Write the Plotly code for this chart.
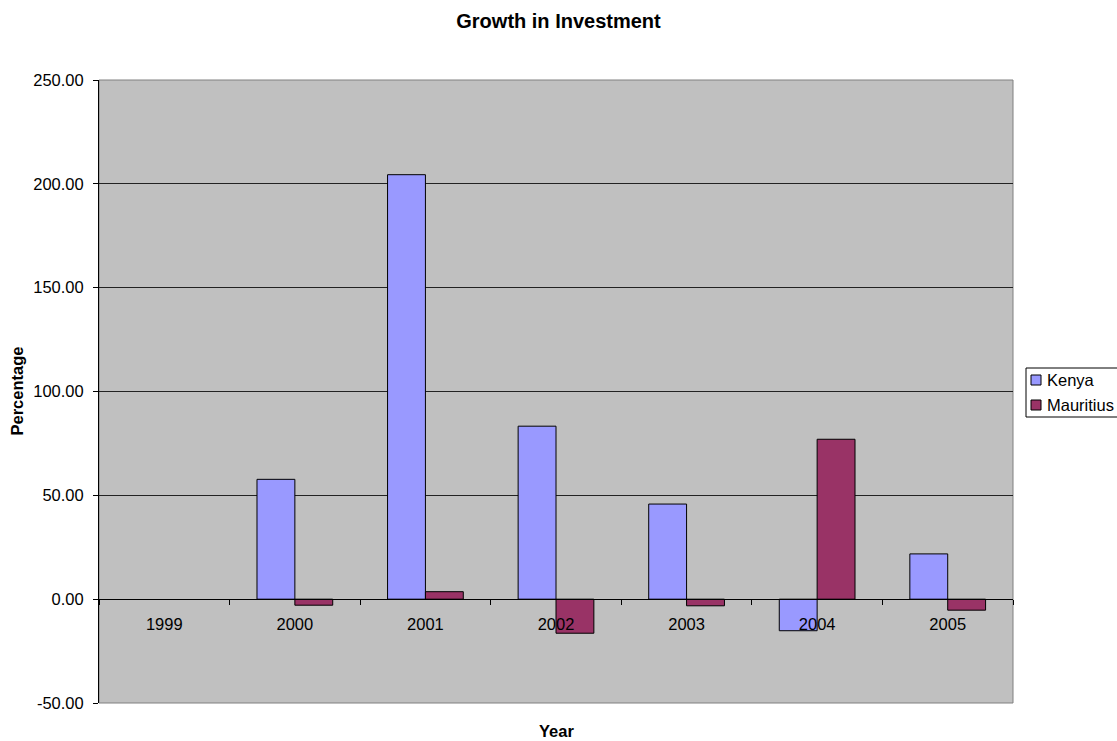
import plotly.graph_objects as go

years = ["1999", "2000", "2001", "2002", "2003", "2004", "2005"]
kenya = [None, 57.7, 204.4, 83.3, 45.8, -15.2, 21.8]
mauritius = [None, -2.9, 3.6, -16.4, -3.2, 77.0, -5.3]
y_ticks = [-50, 0, 50, 100, 150, 200, 250]
y_tick_labels = ["-50.00", "0.00", "50.00", "100.00", "150.00", "200.00", "250.00"]
series_names = ["Kenya", "Mauritius"]
series_colors = ["#9999FF", "#993366"]

FONT = "Liberation Sans, Arial, sans-serif"
W, H = 1117, 741
ML, MR, MT, MB = 99, 104, 80, 38
PW, PH = W - ML - MR, H - MT - MB


def px_x(px):
    return (px - ML) / PW


def px_y(py):
    return (H - MB - py) / PH


fig = go.Figure()
for name, vals, col in zip(series_names, [kenya, mauritius], series_colors):
    fig.add_trace(go.Bar(x=years, y=vals, name=name, showlegend=False,
                         marker=dict(color=col, line=dict(color="black", width=1))))

fig.update_layout(
    width=W, height=H,
    margin=dict(l=ML, r=MR, t=MT, b=MB, autoexpand=False),
    paper_bgcolor="white", plot_bgcolor="#C0C0C0",
    font=dict(family=FONT, size=16.5, color="black"),
    barmode="group", bargap=0.42, bargroupgap=0,
    title=dict(text="<b>Growth in Investment</b>", x=0.5, xanchor="center",
               y=1 - 21 / H, yanchor="middle", font=dict(size=20, family=FONT)),
    showlegend=False,
)

fig.update_yaxes(range=[-50, 250], tickvals=y_ticks, ticktext=y_tick_labels,
                 showgrid=True, gridcolor="#222222", gridwidth=1,
                 zeroline=False, showline=True, linecolor="black", linewidth=1,
                 ticks="outside", ticklen=5, tickcolor="black",
                 ticklabelstandoff=6)
fig.update_xaxes(type="category", range=[-0.5, 6.5], anchor="free", position=50 / 300,
                 showgrid=False, zeroline=False, showline=True, linecolor="black",
                 linewidth=1, ticks="outside", ticklen=5, tickcolor="black",
                 tickson="boundaries", ticklabelstandoff=10)

# plot area border
fig.add_shape(type="rect", xref="paper", yref="paper", x0=0, x1=1, y0=0, y1=1,
              line=dict(color="#808080", width=1), layer="below")

# legend (box, swatches, labels)
fig.add_shape(type="rect", xref="paper", yref="paper",
              x0=px_x(1026), x1=px_x(1130), y0=px_y(417), y1=px_y(368),
              line=dict(color="black", width=1), fillcolor="white")
for i, (name, col) in enumerate(zip(series_names, series_colors)):
    cy = 380 + 25 * i
    fig.add_shape(type="rect", xref="paper", yref="paper",
                  x0=px_x(1031), x1=px_x(1041), y0=px_y(cy + 5), y1=px_y(cy - 5),
                  line=dict(color="black", width=1), fillcolor=col)
    fig.add_annotation(text=name, xref="paper", yref="paper", x=px_x(1045), y=px_y(cy),
                       xanchor="left", yanchor="middle", showarrow=False,
                       font=dict(size=16.5, family=FONT))

fig.add_annotation(text="<b>Year</b>", xref="paper", yref="paper", x=0.5, y=0,
                   yshift=-28, xanchor="center", yanchor="middle", showarrow=False,
                   font=dict(size=16.5, family=FONT))
fig.add_annotation(text="<b>Percentage</b>", xref="paper", yref="paper", x=0, y=0.5,
                   xshift=-83, xanchor="center", yanchor="middle", textangle=-90,
                   showarrow=False, font=dict(size=16.5, family=FONT))

fig.write_html("out.html", config={"displayModeBar": False},
               post_script="document.body.style.margin='0';document.body.style.overflow='hidden';")
